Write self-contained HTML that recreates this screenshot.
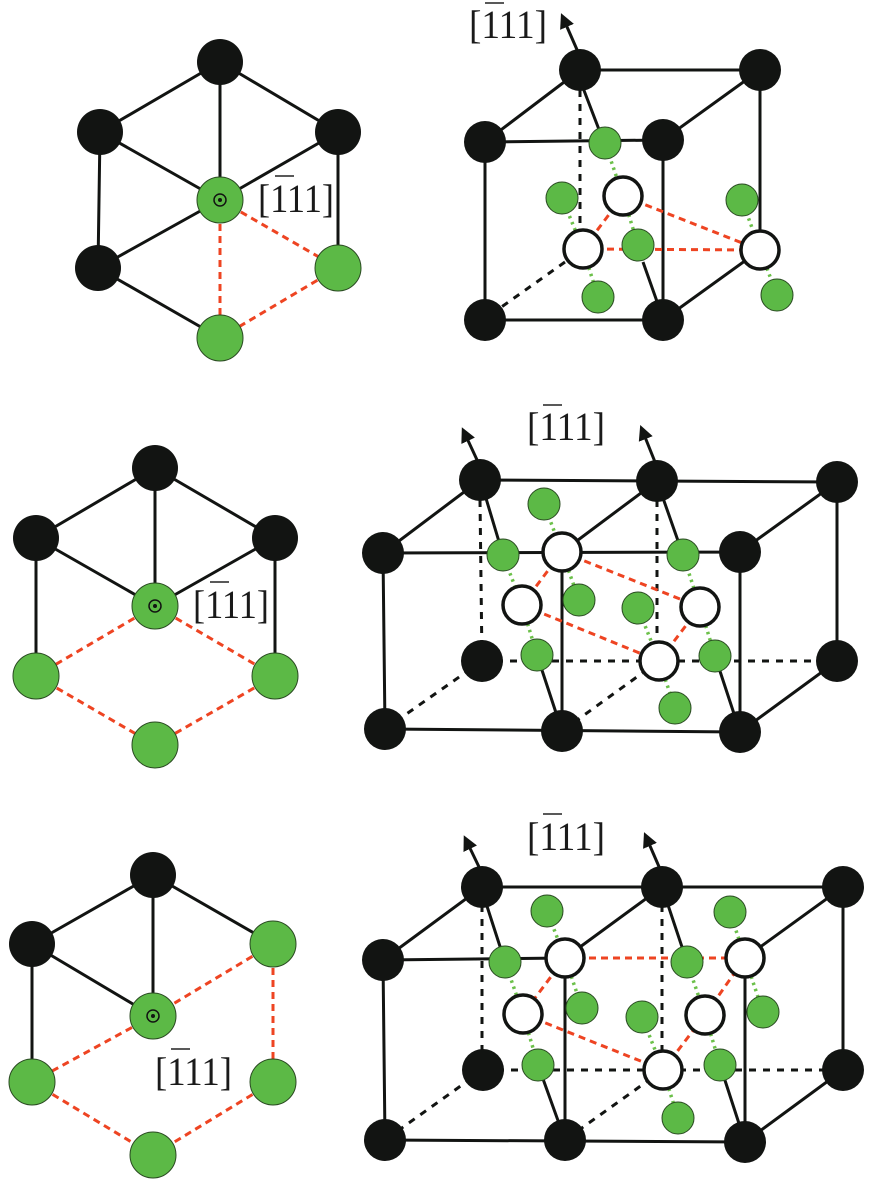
<!DOCTYPE html>
<html><head><meta charset="utf-8"><style>
html,body{margin:0;padding:0;background:#fff;}
svg{display:block;}
.s{stroke:#121412;stroke-width:3;fill:none;}
.d{stroke:#121412;stroke-width:3;stroke-dasharray:7 7;fill:none;}
.r{stroke:#ee4422;stroke-width:3;stroke-dasharray:7 5;fill:none;}
.g{stroke:#6cc04a;stroke-width:3.5;stroke-dasharray:2.5 4;fill:none;}
.b{fill:#121412;}
.gr{fill:#5cb946;stroke:#2a4a22;stroke-width:1;}
.w{fill:#fff;stroke:#121412;stroke-width:3.5;}
text{font-family:"Liberation Serif","Times New Roman",serif;font-size:40px;fill:#1a1a1a;}
</style></head><body>
<svg width="871" height="1186" viewBox="0 0 871 1186" xmlns="http://www.w3.org/2000/svg">
<defs><marker id="ah" viewBox="0 0 10 10" refX="5" refY="5" markerWidth="5" markerHeight="5" orient="auto"><path d="M0,0 L10,5 L0,10 z" fill="#121412"/></marker></defs>

<!-- Panel 1 left -->
<g>
<path class="s" d="M220,62 L100,132 M220,62 L338,132 M220,62 L220,200 M100,132 L220,200 M338,132 L220,200 M100,132 L98,268 M338,132 L338,268 M98,268 L220,200 M98,268 L220,338"/>
<path class="r" d="M220,200 L220,338 M220,200 L338,268 M338,268 L220,338"/>
<circle class="b" cx="220" cy="62" r="23"/><circle class="b" cx="100" cy="132" r="23"/><circle class="b" cx="338" cy="132" r="23"/><circle class="b" cx="98" cy="268" r="23"/>
<circle class="gr" cx="220" cy="200" r="23"/><circle class="gr" cx="338" cy="268" r="23"/><circle class="gr" cx="220" cy="338" r="23"/>
<circle cx="220" cy="200" r="6" fill="none" stroke="#121412" stroke-width="1.5"/><circle cx="220" cy="200" r="2" fill="#121412"/>
<text x="258" y="212" textLength="76" lengthAdjust="spacingAndGlyphs">[111]</text><line x1="275" y1="176" x2="294" y2="176" stroke="#222" stroke-width="1.5"/>
</g>

<!-- Panel 1 right -->
<g>
<path class="s" d="M580,70 L760,70 M485,142 L580,70 M663,140 L760,70 M485,142 L663,140 M485,142 L485,320 M663,140 L663,320 M485,320 L663,320 M760,70 L760,250 M760,250 L663,320 M580,80 L603,140 M643,262 L660,310"/>
<path class="d" d="M580,90 L580,232 M565,262 L500,308"/>
<path class="g" d="M605,143 L623,196 M562,198 L583,249 M623,196 L638,245 M583,249 L598,297 M742,200 L760,250 M760,250 L777,295"/>
<path class="r" d="M623,196 L583,249 M583,249 L760,250 M623,196 L760,250"/>
<line class="s" x1="578" y1="52" x2="564" y2="20" marker-end="url(#ah)"/>
<circle class="b" cx="580" cy="70" r="21"/><circle class="b" cx="760" cy="70" r="21"/><circle class="b" cx="485" cy="142" r="21"/><circle class="b" cx="663" cy="140" r="21"/><circle class="b" cx="485" cy="320" r="21"/><circle class="b" cx="663" cy="320" r="21"/>
<circle class="gr" cx="605" cy="143" r="16"/><circle class="gr" cx="562" cy="198" r="16"/><circle class="gr" cx="638" cy="245" r="16"/><circle class="gr" cx="598" cy="297" r="16"/><circle class="gr" cx="742" cy="200" r="16"/><circle class="gr" cx="777" cy="295" r="16"/>
<circle class="w" cx="623" cy="196" r="19"/><circle class="w" cx="583" cy="249" r="19"/><circle class="w" cx="760" cy="250" r="19"/>
<text x="469" y="38" textLength="78" lengthAdjust="spacingAndGlyphs">[111]</text><line x1="485" y1="3" x2="504" y2="3" stroke="#222" stroke-width="1.5"/>
</g>

<!-- Panel 2 left -->
<g>
<path class="s" d="M155,468 L36,538 M155,468 L275,538 M155,468 L155,606 M36,538 L155,606 M275,538 L155,606 M36,538 L36,676 M275,538 L275,676"/>
<path class="r" d="M155,606 L36,676 M155,606 L275,676 M36,676 L155,745 M275,676 L155,745"/>
<circle class="b" cx="155" cy="468" r="23"/><circle class="b" cx="36" cy="538" r="23"/><circle class="b" cx="275" cy="538" r="23"/>
<circle class="gr" cx="155" cy="606" r="23"/><circle class="gr" cx="36" cy="676" r="23"/><circle class="gr" cx="275" cy="676" r="23"/><circle class="gr" cx="155" cy="745" r="23"/>
<circle cx="155" cy="606" r="6" fill="none" stroke="#121412" stroke-width="1.5"/><circle cx="155" cy="606" r="2" fill="#121412"/>
<text x="193" y="618" textLength="76" lengthAdjust="spacingAndGlyphs">[111]</text><line x1="210" y1="582" x2="229" y2="582" stroke="#222" stroke-width="1.5"/>
</g>

<!-- Panel 2 right -->
<g>
<path class="s" d="M480,480 L837,482 M383,553 L480,480 M562,552 L657,481 M740,552 L837,482 M383,553 L740,552 M383,553 L385,729 M562,552 L562,731 M740,552 L740,732 M837,482 L837,661 M385,729 L740,732 M740,732 L837,661 M485,495 L503,555 M657,481 L683,555 M537,655 L562,731 M715,656 L740,732"/>
<path class="d" d="M480,500 L482,661 M657,500 L657,640 M482,661 L837,661 M482,661 L385,729 M659,661 L562,731"/>
<path class="g" d="M544,504 L562,552 M503,555 L522,605 M562,552 L579,600 M522,605 L537,655 M683,555 L700,607 M638,608 L659,661 M700,607 L715,656 M659,661 L675,708"/>
<path class="r" d="M562,552 L522,605 M522,605 L659,661 M562,552 L700,607 M700,607 L659,661"/>
<line class="s" x1="478" y1="462" x2="465" y2="434" marker-end="url(#ah)"/>
<line class="s" x1="655" y1="462" x2="643" y2="432" marker-end="url(#ah)"/>
<circle class="b" cx="480" cy="480" r="21"/><circle class="b" cx="657" cy="481" r="21"/><circle class="b" cx="837" cy="482" r="21"/><circle class="b" cx="383" cy="553" r="21"/><circle class="b" cx="740" cy="552" r="21"/><circle class="b" cx="482" cy="661" r="21"/><circle class="b" cx="837" cy="661" r="21"/><circle class="b" cx="385" cy="729" r="21"/><circle class="b" cx="562" cy="731" r="21"/><circle class="b" cx="740" cy="732" r="21"/>
<circle class="gr" cx="544" cy="504" r="16"/><circle class="gr" cx="503" cy="555" r="16"/><circle class="gr" cx="579" cy="600" r="16"/><circle class="gr" cx="638" cy="608" r="16"/><circle class="gr" cx="683" cy="555" r="16"/><circle class="gr" cx="537" cy="655" r="16"/><circle class="gr" cx="715" cy="656" r="16"/><circle class="gr" cx="675" cy="708" r="16"/>
<circle class="w" cx="562" cy="552" r="19"/><circle class="w" cx="522" cy="605" r="19"/><circle class="w" cx="700" cy="607" r="19"/><circle class="w" cx="659" cy="661" r="19"/>
<text x="527" y="440" textLength="78" lengthAdjust="spacingAndGlyphs">[111]</text><line x1="543" y1="405" x2="562" y2="405" stroke="#222" stroke-width="1.5"/>
</g>

<!-- Panel 3 left -->
<g>
<path class="s" d="M153,875 L32,944 M153,875 L273,944 M153,875 L153,1016 M32,944 L153,1016 M32,944 L32,1082"/>
<path class="r" d="M273,944 L153,1016 M273,944 L273,1082 M153,1016 L32,1082 M32,1082 L153,1155 M273,1082 L153,1155"/>
<circle class="b" cx="153" cy="875" r="23"/><circle class="b" cx="32" cy="944" r="23"/>
<circle class="gr" cx="273" cy="944" r="23"/><circle class="gr" cx="153" cy="1016" r="23"/><circle class="gr" cx="32" cy="1082" r="23"/><circle class="gr" cx="273" cy="1082" r="23"/><circle class="gr" cx="153" cy="1155" r="23"/>
<circle cx="153" cy="1016" r="6" fill="none" stroke="#121412" stroke-width="1.5"/><circle cx="153" cy="1016" r="2" fill="#121412"/>
<text x="155" y="1085" textLength="77" lengthAdjust="spacingAndGlyphs">[111]</text><line x1="171" y1="1049" x2="190" y2="1049" stroke="#222" stroke-width="1.5"/>
</g>

<!-- Panel 3 right -->
<g>
<path class="s" d="M482,887 L843,887 M383,960 L482,887 M565,958 L662,887 M745,958 L843,887 M383,960 L565,958 M383,960 L385,1140 M565,958 L565,1140 M745,958 L745,1142 M843,887 L843,1070 M385,1140 L745,1142 M745,1142 L843,1070 M485,900 L505,962 M662,887 L687,962 M538,1065 L565,1140 M720,1065 L745,1142"/>
<path class="d" d="M482,905 L482,1070 M662,905 L662,1050 M483,1070 L843,1070 M483,1070 L385,1140 M663,1070 L565,1140"/>
<path class="g" d="M547,911 L565,958 M505,962 L523,1014 M565,958 L582,1008 M523,1014 L538,1065 M730,912 L745,958 M745,958 L763,1012 M687,962 L705,1015 M642,1017 L663,1070 M705,1015 L720,1065 M663,1070 L678,1118"/>
<path class="r" d="M565,958 L745,958 M565,958 L523,1014 M523,1014 L663,1070 M663,1070 L705,1015 M705,1015 L745,958"/>
<line class="s" x1="480" y1="869" x2="467" y2="842" marker-end="url(#ah)"/>
<line class="s" x1="660" y1="869" x2="647" y2="839" marker-end="url(#ah)"/>
<circle class="b" cx="482" cy="887" r="21"/><circle class="b" cx="662" cy="887" r="21"/><circle class="b" cx="843" cy="887" r="21"/><circle class="b" cx="383" cy="960" r="21"/><circle class="b" cx="483" cy="1070" r="21"/><circle class="b" cx="843" cy="1070" r="21"/><circle class="b" cx="385" cy="1140" r="21"/><circle class="b" cx="565" cy="1140" r="21"/><circle class="b" cx="745" cy="1142" r="21"/>
<circle class="gr" cx="547" cy="911" r="16"/><circle class="gr" cx="505" cy="962" r="16"/><circle class="gr" cx="582" cy="1008" r="16"/><circle class="gr" cx="642" cy="1017" r="16"/><circle class="gr" cx="687" cy="962" r="16"/><circle class="gr" cx="730" cy="912" r="16"/><circle class="gr" cx="763" cy="1012" r="16"/><circle class="gr" cx="538" cy="1065" r="16"/><circle class="gr" cx="720" cy="1065" r="16"/><circle class="gr" cx="678" cy="1118" r="16"/>
<circle class="w" cx="565" cy="958" r="19"/><circle class="w" cx="745" cy="958" r="19"/><circle class="w" cx="523" cy="1014" r="19"/><circle class="w" cx="705" cy="1015" r="19"/><circle class="w" cx="663" cy="1070" r="19"/>
<text x="527" y="850" textLength="78" lengthAdjust="spacingAndGlyphs">[111]</text><line x1="543" y1="814" x2="562" y2="814" stroke="#222" stroke-width="1.5"/>
</g>
</svg>
</body></html>
